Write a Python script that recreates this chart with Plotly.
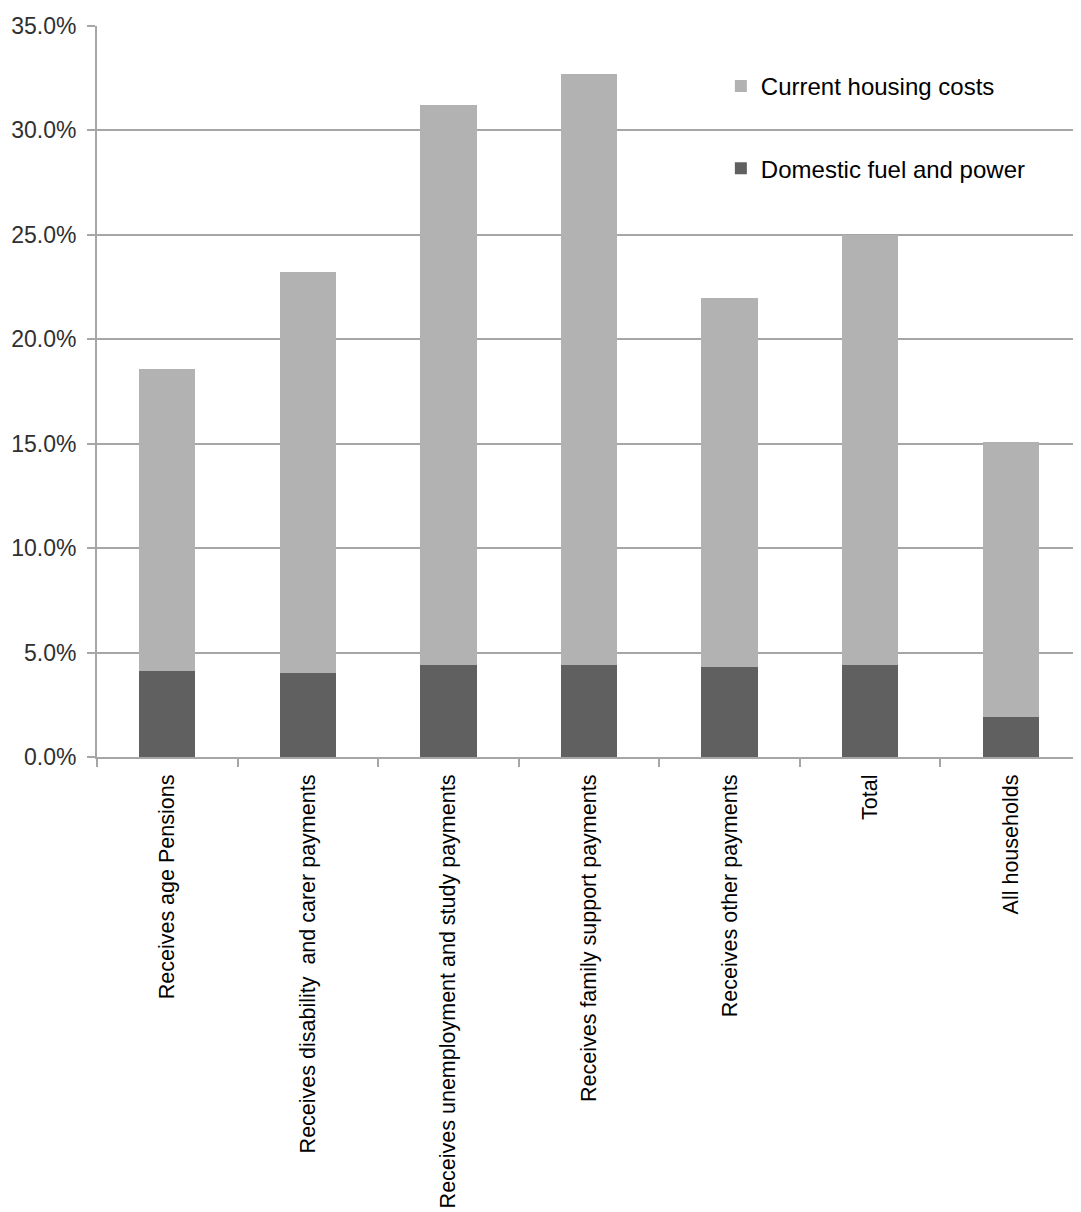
import plotly.graph_objects as go

categories = [
    "Receives age Pensions",
    "Receives disability  and carer payments",
    "Receives unemployment and study payments",
    "Receives family support payments",
    "Receives other payments",
    "Total",
    "All households",
]
fuel_power = [4.1, 4.0, 4.4, 4.4, 4.3, 4.4, 1.9]
housing_costs = [14.5, 19.2, 26.8, 28.3, 17.7, 20.6, 13.2]

fuel_frac = [v / 100 for v in fuel_power]
housing_frac = [v / 100 for v in housing_costs]

font_family = "Liberation Sans, Arial, sans-serif"
grid_col = "#a6a6a6"

fig = go.Figure()
fig.add_trace(go.Bar(
    x=categories, y=fuel_frac, name="Domestic fuel and power",
    marker=dict(color="#606060", line=dict(width=0)),
    legendgroup="b", legendrank=2,
))
fig.add_trace(go.Bar(
    x=categories, y=housing_frac, name="Current housing costs",
    marker=dict(color="#b2b2b2", line=dict(width=0)),
    legendgroup="a", legendrank=1,
))

fig.update_layout(
    width=1073, height=1204,
    barmode="stack", bargap=0.6,
    plot_bgcolor="white", paper_bgcolor="white",
    margin=dict(l=89, r=0, t=18, b=455),
    font=dict(family=font_family, size=21, color="#000000"),
    legend=dict(
        x=0.634, y=0.948, xanchor="left", yanchor="top",
        traceorder="grouped", tracegroupgap=48,
        font=dict(size=24, color="#000000"),
        bgcolor="rgba(0,0,0,0)", itemwidth=30,
    ),
    showlegend=True,
)
fig.update_yaxes(
    range=[0, 0.35], dtick=0.05, tickformat=".1%",
    showgrid=True, gridcolor=grid_col, gridwidth=2,
    showline=True, linecolor=grid_col, linewidth=2,
    ticks="outside", ticklen=8, tickcolor=grid_col, tickwidth=2,
    tickfont=dict(size=23, color="#303030"), ticklabelstandoff=6,
    zeroline=False, automargin=False,
)
fig.update_xaxes(
    tickangle=-90, showline=True, linecolor=grid_col, linewidth=2,
    ticks="outside", tickson="boundaries", ticklen=8, tickcolor=grid_col, tickwidth=2,
    tickfont=dict(size=21.5, color="#000000"), ticklabelstandoff=7,
    showgrid=False, automargin=False,
)

fig.write_html("out.html")
